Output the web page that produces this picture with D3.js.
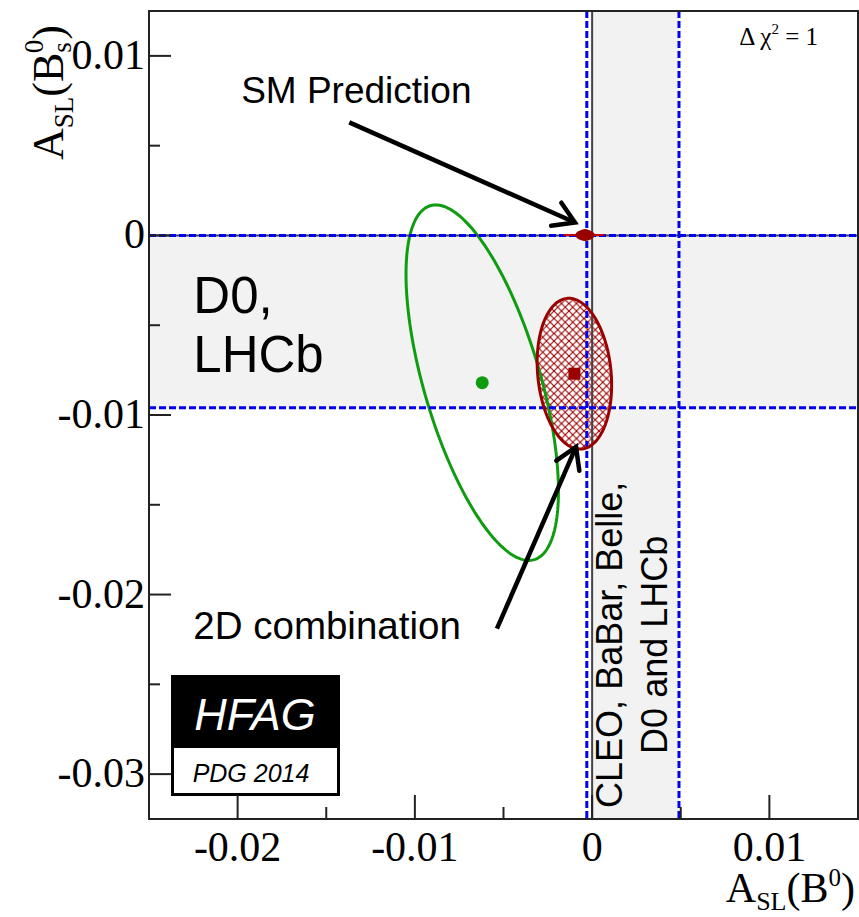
<!DOCTYPE html>
<html>
<head>
<meta charset="utf-8">
<script src="https://cdn.jsdelivr.net/npm/d3@7"></script>
<style>
  body { margin: 0; background: #fff; }
  svg { display: block; }
</style>
</head>
<body>
<div id="chart"></div>
<script>
// axis ranges and ticks
var xDomain = [-0.025, 0.015],
    yDomain = [-0.0325, 0.0125];
var xTicks = [-0.02, -0.01, 0, 0.01],
    xTickLabels = ["-0.02", "-0.01", "0", "0.01"],
    xMinor = [-0.025, -0.015, -0.005, 0.005, 0.015];
var yTicks = [0.01, 0, -0.01, -0.02, -0.03],
    yTickLabels = ["0.01", "0", "-0.01", "-0.02", "-0.03"],
    yMinor = [0.005, -0.005, -0.015, -0.025];

// world average bands (lo, hi)
var bandB0 = [-0.0003, 0.0049],   // CLEO, BaBar, Belle, D0 and LHCb
    bandBs = [-0.0096, 0.0000];   // D0, LHCb

// delta chi2 = 1 contours: D0 dimuon and 2D combination
var ellNames = ["D0", "2D combination"],
    ellX   = [-0.0062, -0.0010],
    ellY   = [-0.0082, -0.0077],
    ellSX  = [0.0043, 0.0021],
    ellSY  = [0.0099, 0.0042],
    ellRho = [-0.61, -0.15];

// SM prediction
var smPoint = [-0.0004, 0.00002],
    smErr = [0.0011, 0.0002];

// annotation arrows [x1, y1, x2, y2] in data units
var arrows = [
  [-0.0137, 0.0063, -0.00097, 0.00072],
  [-0.00537, -0.0219, -0.00091, -0.01178]
];

var W = 859, H = 917;
var margin = {top: 11, right: 1, bottom: 98, left: 149};
var width = W - margin.left - margin.right,
    height = H - margin.top - margin.bottom;

var svg = d3.select("#chart").append("svg")
    .attr("width", W)
    .attr("height", H);

var defs = svg.append("defs");
var pat = defs.append("pattern")
    .attr("id", "xhatch")
    .attr("patternUnits", "userSpaceOnUse")
    .attr("width", 7.5)
    .attr("height", 7.5);
pat.append("rect").attr("width", 7.5).attr("height", 7.5).attr("fill", "#fff");
pat.append("path").attr("d", "M0,0L7.5,7.5M7.5,0L0,7.5")
    .attr("stroke", "#990000").attr("stroke-width", 1.1);

defs.append("clipPath").attr("id", "frame")
  .append("rect").attr("width", width).attr("height", height);

var g = svg.append("g")
    .attr("transform", "translate(" + margin.left + "," + margin.top + ")");

var x = d3.scaleLinear().domain(xDomain).range([0, width]);
var y = d3.scaleLinear().domain(yDomain).range([height, 0]);

var plot = g.append("g").attr("clip-path", "url(#frame)");

// gray bands
plot.append("rect")
    .attr("x", x(0)).attr("y", 0)
    .attr("width", x(bandB0[1]) - x(0)).attr("height", height)
    .attr("fill", "#f2f2f2");
plot.append("rect")
    .attr("x", 0).attr("y", y(bandBs[1]))
    .attr("width", width).attr("height", y(bandBs[0]) - y(bandBs[1]))
    .attr("fill", "#f2f2f2");

function ellipsePts(i) {
  var pts = [];
  for (var k = 0; k <= 180; k++) {
    var t = 2 * Math.PI * k / 180;
    var px = ellX[i] + ellSX[i] * Math.cos(t);
    var py = ellY[i] + ellSY[i] * (ellRho[i] * Math.cos(t) + Math.sqrt(1 - ellRho[i] * ellRho[i]) * Math.sin(t));
    pts.push([x(px), y(py)]);
  }
  return pts;
}
var line = d3.line().curve(d3.curveLinearClosed);

// 2D combination hatched fill
plot.append("path")
    .attr("d", line(ellipsePts(1)))
    .attr("fill", "url(#xhatch)");

// D0 contour
plot.append("path")
    .attr("d", line(ellipsePts(0)))
    .attr("fill", "none")
    .attr("stroke", "#109c10")
    .attr("stroke-width", 3);

// SM lines
plot.append("line")
    .attr("x1", x(0)).attr("x2", x(0)).attr("y1", 0).attr("y2", height)
    .attr("stroke", "#444").attr("stroke-width", 2);
plot.append("line")
    .attr("x1", 0).attr("x2", width).attr("y1", y(0)).attr("y2", y(0))
    .attr("stroke", "#444").attr("stroke-width", 2);

// blue dashed band edges
bandB0.forEach(function(v) {
  plot.append("line")
      .attr("x1", x(v)).attr("x2", x(v)).attr("y1", 0).attr("y2", height)
      .attr("stroke", "#0000ee").attr("stroke-width", 3)
      .attr("stroke-dasharray", "7,3");
});
bandBs.forEach(function(v) {
  plot.append("line")
      .attr("x1", 0).attr("x2", width).attr("y1", y(v)).attr("y2", y(v))
      .attr("stroke", "#0000ee").attr("stroke-width", 3)
      .attr("stroke-dasharray", "7,3");
});

// 2D combination outline
plot.append("path")
    .attr("d", line(ellipsePts(1)))
    .attr("fill", "none")
    .attr("stroke", "#990000")
    .attr("stroke-width", 3);

// markers
plot.append("circle")
    .attr("cx", x(ellX[0])).attr("cy", y(ellY[0])).attr("r", 6.5)
    .attr("fill", "#109c10");
plot.append("rect")
    .attr("x", x(ellX[1]) - 6).attr("y", y(ellY[1]) - 6)
    .attr("width", 12).attr("height", 12)
    .attr("fill", "#990000");

// SM prediction
plot.append("line")
    .attr("x1", x(smPoint[0] - smErr[0] * 1.1)).attr("x2", x(smPoint[0] + smErr[0]))
    .attr("y1", y(smPoint[1])).attr("y2", y(smPoint[1]))
    .attr("stroke", "#cc0000").attr("stroke-width", 2);
plot.append("ellipse")
    .attr("cx", x(smPoint[0])).attr("cy", y(smPoint[1]))
    .attr("rx", x(smPoint[0] + smErr[0] * 0.5) - x(smPoint[0]))
    .attr("ry", y(smPoint[1]) - y(smPoint[1] + smErr[1]) + 2)
    .attr("fill", "#990000");
plot.append("circle")
    .attr("cx", x(smPoint[0])).attr("cy", y(smPoint[1])).attr("r", 6)
    .attr("fill", "#990000");

// arrows
arrows.forEach(function(a) {
  var x1 = x(a[0]), y1 = y(a[1]), x2 = x(a[2]), y2 = y(a[3]);
  var ang = Math.atan2(y2 - y1, x2 - x1), L = 24, spread = 0.55;
  g.append("line")
      .attr("x1", x1).attr("y1", y1).attr("x2", x2 - 3 * Math.cos(ang)).attr("y2", y2 - 3 * Math.sin(ang))
      .attr("stroke", "#000").attr("stroke-width", 4.5);
  g.append("path")
      .attr("d", "M" + (x2 - L * Math.cos(ang - spread)) + "," + (y2 - L * Math.sin(ang - spread)) +
                 "L" + x2 + "," + y2 +
                 "L" + (x2 - L * Math.cos(ang + spread)) + "," + (y2 - L * Math.sin(ang + spread)))
      .attr("fill", "none").attr("stroke", "#000").attr("stroke-width", 4.5)
      .attr("stroke-linejoin", "miter").attr("stroke-linecap", "round");
});

// annotation text
var sans = "'Liberation Sans', Arial, sans-serif",
    serif = "'Liberation Serif', 'Times New Roman', serif";

g.append("text").attr("x", x(-0.0198)).attr("y", y(0.0074))
    .attr("font-family", sans).attr("font-size", 37).text("SM Prediction");
g.append("text").attr("x", x(-0.0225)).attr("y", y(-0.0225))
    .attr("font-family", sans).attr("font-size", 38.5).text("2D combination");
g.append("text").attr("x", x(-0.0225)).attr("y", y(-0.0043))
    .attr("font-family", sans).attr("font-size", 51).text("D0,");
g.append("text").attr("x", x(-0.0225)).attr("y", y(-0.0076))
    .attr("font-family", sans).attr("font-size", 51).text("LHCb");

var vt = [["CLEO, BaBar, Belle,", 0.00168], ["D0 and LHCb", 0.00423]];
vt.forEach(function(d) {
  g.append("text")
      .attr("transform", "translate(" + x(d[1]) + "," + y(-0.0228) + ") rotate(-90)")
      .attr("text-anchor", "middle")
      .attr("font-family", sans).attr("font-size", 36).text(d[0]);
});

var chi = g.append("text").attr("x", x(0.0083)).attr("y", y(0.0106))
    .attr("font-family", serif).attr("font-size", 25);
chi.append("tspan").text("\u0394\u2009\u03c7");
chi.append("tspan").attr("dy", -11).attr("font-size", 15).text("2");
chi.append("tspan").attr("dy", 11).text(" = 1");

// HFAG logo
var logo = g.append("g").attr("transform", "translate(" + (171 - margin.left) + "," + (675 - margin.top) + ")");
logo.append("rect").attr("width", 169).attr("height", 121).attr("fill", "#000");
logo.append("rect").attr("x", 3).attr("y", 73).attr("width", 163).attr("height", 45).attr("fill", "#fff");
logo.append("text").attr("x", 84).attr("y", 55).attr("text-anchor", "middle")
    .attr("font-family", sans).attr("font-style", "italic").attr("font-size", 45)
    .attr("fill", "#fff").text("HFAG");
logo.append("text").attr("x", 80).attr("y", 107).attr("text-anchor", "middle")
    .attr("font-family", sans).attr("font-style", "italic").attr("font-size", 25)
    .attr("fill", "#000").text("PDG 2014");

// frame
g.append("rect").attr("width", width).attr("height", height)
    .attr("fill", "none").attr("stroke", "#222").attr("stroke-width", 2);

// ticks (inward)
var xAxis = g.append("g").attr("transform", "translate(0," + height + ")");
xAxis.selectAll(".major").data(xTicks).enter().append("line")
    .attr("x1", function(d) { return x(d); }).attr("x2", function(d) { return x(d); })
    .attr("y1", 0).attr("y2", -24).attr("stroke", "#222").attr("stroke-width", 2);
xAxis.selectAll(".minor").data(xMinor).enter().append("line")
    .attr("x1", function(d) { return x(d); }).attr("x2", function(d) { return x(d); })
    .attr("y1", 0).attr("y2", -12).attr("stroke", "#222").attr("stroke-width", 2);
xAxis.selectAll("text").data(xTicks).enter().append("text")
    .attr("x", function(d) { return x(d); }).attr("y", 42)
    .attr("text-anchor", "middle")
    .attr("font-family", serif).attr("font-size", 42)
    .text(function(d, i) { return xTickLabels[i]; });

var yAxis = g.append("g");
yAxis.selectAll(".major").data(yTicks).enter().append("line")
    .attr("y1", function(d) { return y(d); }).attr("y2", function(d) { return y(d); })
    .attr("x1", 0).attr("x2", 22).attr("stroke", "#222").attr("stroke-width", 2);
yAxis.selectAll(".minor").data(yMinor).enter().append("line")
    .attr("y1", function(d) { return y(d); }).attr("y2", function(d) { return y(d); })
    .attr("x1", 0).attr("x2", 11).attr("stroke", "#222").attr("stroke-width", 2);
yAxis.selectAll("text").data(yTicks).enter().append("text")
    .attr("x", -4).attr("y", function(d) { return y(d) + 13; })
    .attr("text-anchor", "end")
    .attr("font-family", serif).attr("font-size", 42)
    .text(function(d, i) { return yTickLabels[i]; });

// axis titles
var xt = svg.append("text").attr("x", 855).attr("y", 902)
    .attr("text-anchor", "end").attr("font-family", serif).attr("font-size", 42);
xt.append("tspan").text("A");
xt.append("tspan").attr("dy", 8).attr("font-size", 26).text("SL");
xt.append("tspan").attr("dy", -8).text("(B");
xt.append("tspan").attr("dy", -16).attr("font-size", 25).text("0");
xt.append("tspan").attr("dy", 16).text(")");

var yt = svg.append("text")
    .attr("transform", "translate(63,160) rotate(-90)")
    .attr("font-family", serif).attr("font-size", 44);
yt.append("tspan").text("A");
yt.append("tspan").attr("dy", 10).attr("font-size", 27).text("SL");
yt.append("tspan").attr("dy", -10).text("(B");
yt.append("tspan").attr("dy", 8).attr("font-size", 27).text("s");
yt.append("tspan").attr("dy", -28).attr("dx", -11).attr("font-size", 27).text("0");
yt.append("tspan").attr("dy", 20).text(")");
</script>
</body>
</html>
